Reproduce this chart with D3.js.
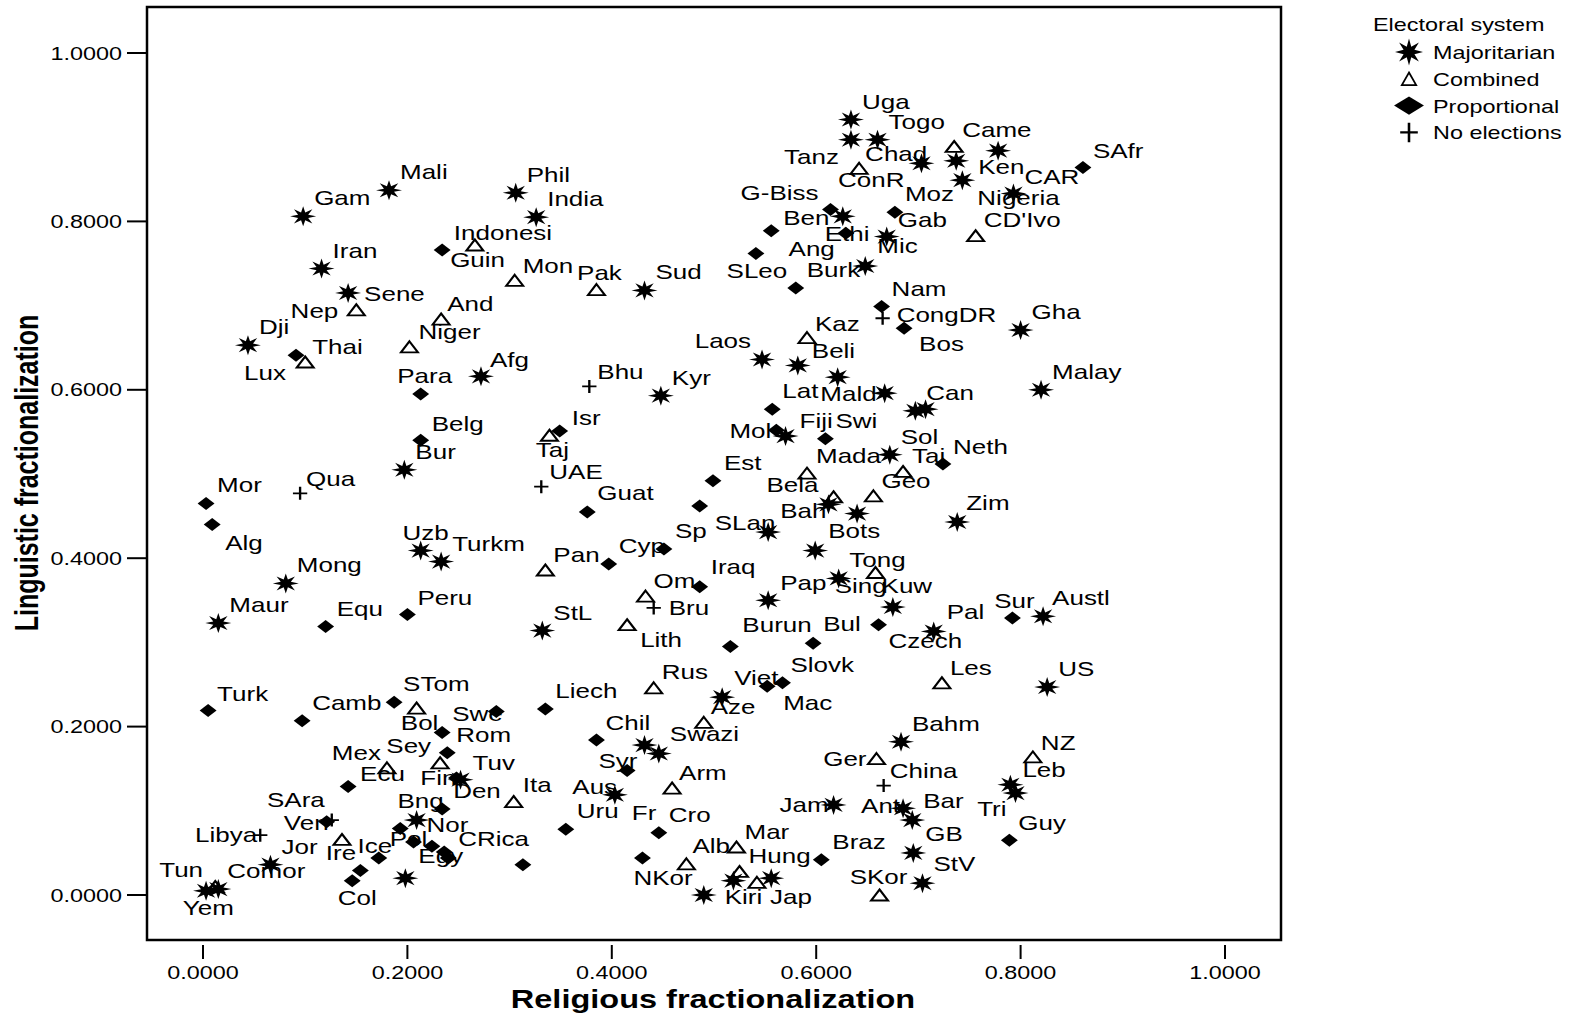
<!DOCTYPE html>
<html>
<head>
<meta charset="utf-8">
<script src="https://cdn.jsdelivr.net/npm/d3@7"></script>
<style>
  body { margin: 0; background: #fff; }
  svg { display: block; font-family: "Liberation Sans", Arial, sans-serif; }
</style>
</head>
<body>
<svg id="chart" width="1572" height="1021"></svg>
<script>
// country labels ("" = point drawn without a label)
const countries = [
  "Mali","Gam","Phil","India","Indonesi","Guin","Mon","Iran","Sene","Nep","And","Niger","Dji","Lux","Thai","Afg","Para",
  "Uga","Tanz","Togo","Chad","ConR","Came","Ken","","Nigeria","CAR","SAfr","Moz","Gab","CD'Ivo","Mic","G-Biss","Ethi","Ang","Ben","SLeo","Burk","Nam","CongDR","Bos","Gha",
  "Pak","Sud","Kaz","Laos","Beli","","Mald","Can","","Malay","Bhu","Kyr","Lat","Mol","Fiji","Swi","Sol","Tai","Neth","Mada","Geo","","Bela","","Bah","Bots","Zim",
  "Est","SLan","Sp","Cyp","Guat","Taj","Isr","UAE","Pan","Iraq","Om","Bru","StL","Lith","Pap","Tong","Sing","Kuw","Czech","Bul","Burun","Pal","Sur","Austl",
  "Belg","Bur","Mor","Qua","Alg","Uzb","Turkm","Mong","Maur","Equ","Peru",
  "Turk","Camb","STom","Bol","","Liech","Swe","Rom","Sey","Mex","Ecu","Fin","Tuv","Den","Ita","SAra","Ven","Libya","Jor","Comor","Tun","Yem",
  "Ire","Ice","Bng","Nor","Pol","","","CRica","","Col","Egy","","Uru",
  "Rus","Chil","Syr","Swazi","Aze","Viet","Mac","Slovk","Aus","Fr","Arm","Cro","NKor","Alb","Mar","Hung","Kiri","Jap","","","Braz","SKor",
  "Ger","China","Jam","Ant","Bar","GB","StV","Bahm","Les","US","NZ","Leb","Tri","Guy"
];

const religious = [
  .182,.098,.306,.326,.266,.234,.305,.116,.142,.150,.233,.202,.044,.091,.100,.272,.213,
  .634,.634,.660,.642,.703,.735,.737,.778,.743,.793,.861,.677,.669,.756,.648,.614,.626,.629,.556,.541,.580,.664,.665,.686,.800,
  .385,.432,.591,.547,.582,.621,.667,.697,.707,.820,.378,.448,.557,.561,.570,.609,.672,.685,.724,.591,.656,.617,.612,.640,.553,.599,.738,
  .499,.486,.451,.397,.376,.339,.349,.331,.335,.486,.433,.441,.332,.415,.553,.658,.622,.675,.661,.597,.516,.715,.792,.822,
  .213,.197,.003,.095,.009,.213,.233,.081,.015,.120,.200,
  .005,.097,.187,.209,.287,.335,.234,.239,.232,.180,.142,.248,.252,.234,.304,.126,.121,.056,.066,.015,.003,.012,
  .136,.193,.209,.206,.172,.224,.236,.240,.154,.146,.198,.313,.355,
  .441,.385,.432,.446,.490,.508,.552,.567,.415,.403,.459,.446,.430,.473,.522,.525,.519,.542,.556,.490,.605,.662,
  .659,.666,.617,.685,.694,.695,.704,.683,.723,.826,.812,.790,.795,.789
];

const linguistic = [
  .837,.806,.834,.805,.772,.766,.730,.744,.715,.695,.684,.651,.653,.641,.633,.616,.595,
  .921,.897,.897,.863,.869,.889,.872,.884,.849,.833,.864,.811,.782,.783,.747,.814,.806,.786,.789,.762,.721,.699,.685,.673,.671,
  .719,.718,.662,.636,.629,.615,.596,.575,.577,.600,.604,.593,.577,.552,.545,.542,.523,.503,.512,.501,.474,.473,.464,.453,.431,.409,.443,
  .492,.462,.411,.393,.455,.546,.551,.485,.386,.366,.355,.341,.314,.321,.350,.383,.376,.342,.321,.299,.295,.313,.329,.331,
  .540,.505,.465,.477,.440,.409,.396,.370,.323,.319,.333,
  .219,.207,.229,.222,.218,.221,.193,.169,.157,.151,.129,.139,.137,.102,.111,.089,.087,.071,.036,.007,.005,.010,
  .066,.079,.089,.063,.044,.058,.051,.044,.029,.017,.020,.036,.078,
  .246,.184,.178,.168,.205,.235,.248,.252,.148,.119,.127,.074,.044,.037,.057,.028,.017,.015,.020,.000,.042,.000,
  .162,.130,.107,.103,.089,.050,.014,.182,.252,.247,.164,.131,.121,.065
];

// M = majoritarian, C = combined, P = proportional, N = no elections
const systems = [
  "M","M","M","M","C","P","C","M","M","C","C","C","M","P","C","M","P",
  "M","M","M","C","M","C","M","M","M","M","P","P","M","C","M","P","M","P","P","P","P","P","N","P","M",
  "C","M","C","M","M","M","M","M","M","M","N","M","P","P","M","P","M","C","P","C","C","C","M","M","M","M","M",
  "P","P","P","P","P","C","P","N","C","P","C","N","M","C","M","C","M","M","P","P","P","M","P","M",
  "P","M","P","N","P","M","M","M","M","P","P",
  "P","P","P","C","P","P","P","P","C","C","P","P","M","P","C","N","P","N","M","M","M","C",
  "C","P","M","P","P","P","P","P","P","P","M","P","P",
  "C","P","M","M","C","M","P","P","P","M","C","P","P","C","C","C","M","C","M","M","P","C",
  "C","N","M","M","M","M","M","M","C","M","C","M","M","P"
];

const legendCodes = ["M", "C", "P", "N"];
const legendNames = ["Majoritarian", "Combined", "Proportional", "No elections"];
const tickValues = [0, 0.2, 0.4, 0.6, 0.8, 1];

// label placement: [anchor, dx, dy] from the point, default upper right
const labelPlace = {
  "Indonesi": ["start", -21, -5], "Guin": ["start", 8, 17], "Mon": ["start", 8, -7], "Sene": ["start", 16, 8],
  "Nep": ["end", -18, 8], "And": ["start", 6, -8], "Niger": ["start", 9, -8], "Lux": ["end", -10, 25],
  "Thai": ["start", 7, -8], "Afg": ["start", 9, -9], "Para": ["middle", 4, -11],
  "Tanz": ["end", -12, 24], "Chad": ["start", 6, -7], "ConR": ["end", -17, 24], "Came": ["start", 8, -9],
  "Ken": ["start", 22, 13], "Nigeria": ["start", 15, 25], "CAR": ["start", 11, -10], "SAfr": ["start", 10, -10],
  "Moz": ["start", 10, -11], "Gab": ["start", 11, -10], "CD'Ivo": ["start", 8, -9], "Mic": ["start", 12, -13],
  "G-Biss": ["end", -12, -10], "Ethi": ["start", -18, 25], "Ang": ["end", -11, 23], "Ben": ["start", 12, -6],
  "SLeo": ["middle", 1, 25], "Nam": ["start", 10, -10], "CongDR": ["start", 14, 4], "Bos": ["start", 15, 23],
  "Pak": ["middle", 3, -10], "Kaz": ["start", 8, -7], "Laos": ["end", -11, -11], "Beli": ["start", 14, -7],
  "Mald": ["end", -8, 8], "Bhu": ["start", 8, -7], "Lat": ["start", 10, -11], "Mol": ["end", -5, 8],
  "Fiji": ["start", 14, -8], "Swi": ["start", 10, -11], "Tai": ["start", 9, -8], "Neth": ["start", 10, -10],
  "Mada": ["start", 9, -10], "Geo": ["start", 8, -8], "Bela": ["end", -10, -12], "Bah": ["start", 12, -14],
  "Bots": ["start", 13, -13], "Zim": ["start", 9, -12], "SLan": ["start", 15, 24], "Cyp": ["start", 10, -11],
  "Guat": ["start", 10, -12], "Taj": ["middle", 3, 22], "Isr": ["start", 12, -6], "UAE": ["start", 8, -8],
  "Pan": ["start", 8, -8], "Iraq": ["start", 11, -13], "Om": ["start", 8, -8], "Bru": ["start", 15, 7],
  "Lith": ["start", 13, 22], "Pap": ["start", 12, -10], "Tong": ["middle", 2, -6], "Sing": ["start", -4, 15],
  "Kuw": ["middle", 14, -14], "Czech": ["start", 10, 23], "Bul": ["start", 10, -12], "Burun": ["start", 12, -15],
  "Pal": ["start", 13, -12], "Sur": ["middle", 2, -10], "Austl": ["start", 9, -11], "Belg": ["start", 11, -9],
  "Qua": ["start", 6, -7], "Alg": ["start", 13, 25], "Uzb": ["middle", 5, -11], "Equ": ["start", 11, -10],
  "Peru": ["start", 10, -10], "Turk": ["start", 9, -10], "Camb": ["start", 10, -11], "STom": ["start", 9, -11],
  "Bol": ["middle", 3, 22], "Liech": ["start", 10, -11], "Swe": ["start", 10, -11], "Rom": ["start", 9, -11],
  "Sey": ["end", -9, -10], "Mex": ["end", -6, -8], "Ecu": ["start", 12, -5], "Fin": ["end", 0, 7],
  "Tuv": ["start", 12, -10], "Ita": ["start", 9, -10], "SAra": ["end", -7, -13], "Ven": ["end", 2, 8],
  "Libya": ["end", -3, 7], "Comor": ["start", 9, -11], "Tun": ["end", -3, -14], "Yem": ["middle", -7, 28],
  "Ire": ["middle", -1, 21], "Ice": ["end", -8, 25], "Bng": ["middle", 4, -12], "Nor": ["start", 13, -10],
  "Pol": ["start", 11, -12], "CRica": ["start", 10, -12], "Col": ["middle", 5, 24], "Egy": ["start", 13, -15],
  "Rus": ["start", 8, -9], "Chil": ["start", 9, -10], "Syr": ["end", -7, 23], "Swazi": ["start", 11, -13],
  "Aze": ["start", 7, -8], "Viet": ["start", 12, -12], "Mac": ["start", 16, 24], "Slovk": ["start", 8, -11],
  "Aus": ["end", -10, 24], "Fr": ["start", 17, 25], "Arm": ["start", 7, -8], "Cro": ["start", 10, -11],
  "NKor": ["start", -9, 27], "Alb": ["start", 6, -11], "Mar": ["start", 8, -8], "Hung": ["start", 9, -8],
  "Kiri": ["middle", 10, 23], "Jap": ["start", 13, 22], "SKor": ["middle", -1, -11], "Ger": ["end", -10, 7],
  "China": ["start", 6, -8], "Jam": ["end", -5, 7], "Ant": ["end", -3, 5], "Bar": ["start", 11, -12],
  "GB": ["start", 12, -12], "StV": ["start", 11, -12], "Bahm": ["start", 11, -11], "Les": ["start", 8, -8],
  "NZ": ["start", 8, -7], "Leb": ["start", 12, -8], "Tri": ["end", -9, 23], "Guy": ["start", 9, -10]
};
const defaultPlace = ["start", 11, -11];

const svg = d3.select("#chart");
const stretch = 1.3;           // the figure is widened horizontally
const fmt = d3.format(".4f");

const x = d3.scaleLinear().domain([0, 1]).range([203, 1225]);
const y = d3.scaleLinear().domain([0, 1]).range([895, 53]);
const frame = { left: 147, top: 7, right: 1281, bottom: 940 };

const points = countries.map((name, i) => ({
  name: name,
  rel: religious[i],
  ling: linguistic[i],
  sys: systems[i]
}));

const starLine = d3.lineRadial().curve(d3.curveLinearClosed);
function starPath(R, r) {
  const pts = d3.range(16).map(i => [i * Math.PI / 8, i % 2 ? r : R]);
  return starLine(pts);
}

const shapes = {
  M: { d: starPath(10, 4.2), fill: "#000", stroke: "none" },
  C: { d: "M0,-5.5L6.5,5.5L-6.5,5.5Z", fill: "none", stroke: "#000" },
  P: { d: "M0,-6.5L6.5,0L0,6.5L-6.5,0Z", fill: "#000", stroke: "none" },
  N: { d: "M-5.5,0H5.5M0,-6.5V6.5", fill: "none", stroke: "#000" }
};

// frame
svg.append("rect")
  .attr("x", frame.left).attr("y", frame.top)
  .attr("width", frame.right - frame.left).attr("height", frame.bottom - frame.top)
  .attr("fill", "none").attr("stroke", "#000").attr("stroke-width", 2.5);

// y axis
const yAxis = svg.append("g");
yAxis.selectAll("line").data(tickValues).join("line")
  .attr("x1", 127).attr("x2", frame.left)
  .attr("y1", d => y(d)).attr("y2", d => y(d))
  .attr("stroke", "#000").attr("stroke-width", 2);
yAxis.selectAll("text").data(tickValues).join("text")
  .attr("transform", d => `translate(122,${y(d) + 6.5}) scale(${stretch},1)`)
  .attr("text-anchor", "end")
  .attr("font-size", 18)
  .text(fmt);

// x axis
const xAxis = svg.append("g");
xAxis.selectAll("line").data(tickValues).join("line")
  .attr("x1", d => x(d)).attr("x2", d => x(d))
  .attr("y1", 945).attr("y2", 959)
  .attr("stroke", "#000").attr("stroke-width", 2);
xAxis.selectAll("text").data(tickValues).join("text")
  .attr("transform", d => `translate(${x(d)},979) scale(${stretch},1)`)
  .attr("text-anchor", "middle")
  .attr("font-size", 18)
  .text(fmt);

svg.append("text")
  .attr("transform", `translate(713,1008) scale(${stretch},1)`)
  .attr("text-anchor", "middle")
  .attr("font-size", 25).attr("font-weight", "bold")
  .text("Religious fractionalization");

svg.append("text")
  .attr("transform", `translate(38,473) scale(${stretch},1) rotate(-90)`)
  .attr("text-anchor", "middle")
  .attr("font-size", 25).attr("font-weight", "bold")
  .text("Linguistic fractionalization");

// point labels under the markers
svg.append("g").selectAll("text")
  .data(points.filter(d => d.name))
  .join("text")
  .attr("transform", d => {
    const p = labelPlace[d.name] || defaultPlace;
    return `translate(${x(d.rel) + p[1]},${y(d.ling) + p[2]}) scale(${stretch},1)`;
  })
  .attr("text-anchor", d => (labelPlace[d.name] || defaultPlace)[0])
  .attr("font-size", 20)
  .text(d => d.name);

// markers
svg.append("g").selectAll("path")
  .data(points)
  .join("path")
  .attr("transform", d => `translate(${x(d.rel)},${y(d.ling)}) scale(${stretch},1)`)
  .attr("d", d => shapes[d.sys].d)
  .attr("fill", d => shapes[d.sys].fill)
  .attr("stroke", d => shapes[d.sys].stroke)
  .attr("stroke-width", 1.8);

// legend
const legend = svg.append("g");
legend.append("text")
  .attr("transform", `translate(1373,31) scale(${stretch},1)`)
  .attr("font-size", 18)
  .text("Electoral system");

const legendScale = { M: [1.4, 1.35], C: [1.1, 1.15], P: [2.3, 1.4], N: [1.6, 1.5] };
const item = legend.selectAll("g.item").data(legendCodes).join("g")
  .attr("class", "item")
  .attr("transform", (d, i) => `translate(0,${59 + i * 26.8})`);
item.append("path")
  .attr("transform", d => `translate(1409,-7) scale(${legendScale[d][0]},${legendScale[d][1]})`)
  .attr("d", d => shapes[d].d)
  .attr("fill", d => shapes[d].fill)
  .attr("stroke", d => shapes[d].stroke)
  .attr("stroke-width", 1.6);
item.append("text")
  .attr("transform", `translate(1433,0) scale(${stretch},1)`)
  .attr("font-size", 18)
  .text((d, i) => legendNames[i]);
</script>
</body>
</html>
